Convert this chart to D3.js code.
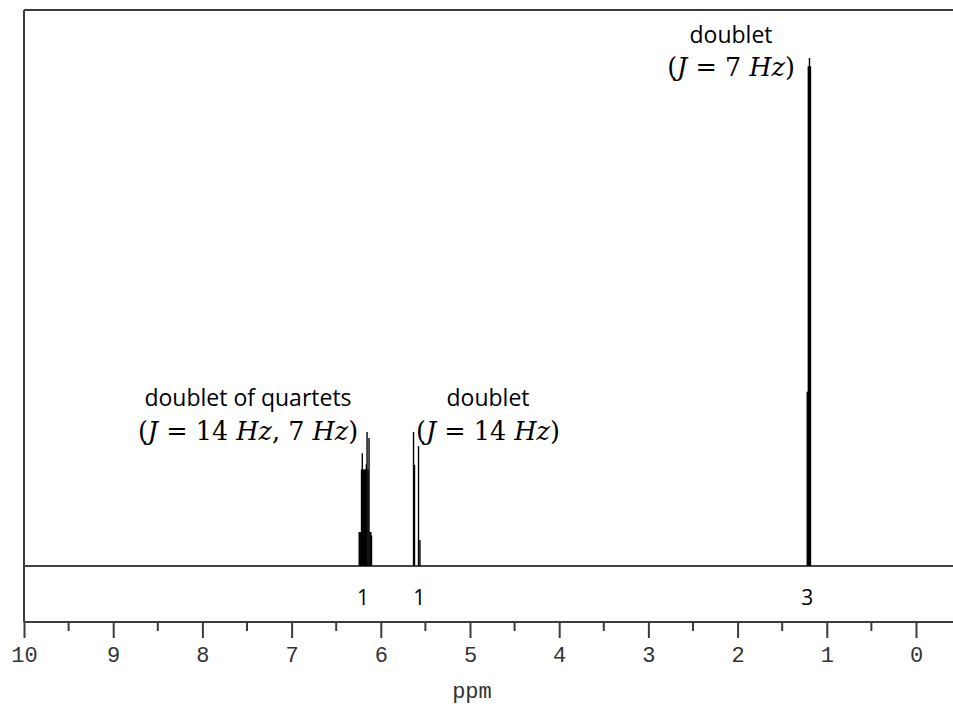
<!DOCTYPE html>
<html>
<head>
<meta charset="utf-8">
<script src="https://cdn.jsdelivr.net/npm/d3@7/dist/d3.min.js"></script>
<style>
  html, body { margin: 0; padding: 0; background: #fff; }
  svg { display: block; }
</style>
</head>
<body>
<svg id="chart" width="953" height="715"></svg>
<script>
// Simulated 1H NMR spectrum: stick lines (chemical shift in ppm, relative intensity)
const lineShifts = [
  // doublet of quartets near 6.17 ppm
  6.242, 6.232, 6.224, 6.216, 6.207, 6.196, 6.184, 6.173, 6.162, 6.154, 6.143, 6.132, 6.121, 6.112, 6.104,
  // doublet near 5.60 ppm
  5.633, 5.622, 5.577, 5.561,
  // doublet near 1.20 ppm
  1.219, 1.207, 1.194, 1.183
];
const lineIntensities = [
  0.067, 0.067, 0.067, 0.190, 0.222, 0.190, 0.190, 0.190, 0.200, 0.264, 0.190, 0.252, 0.067, 0.067, 0.060,
  0.264, 0.199, 0.236, 0.051,
  0.343, 0.984, 1.000, 0.984
];

// Integration values under each multiplet
const integralShifts = [6.20, 5.57, 1.22];
const integralValues = ["1", "1", "3"];

// Axis ticks (ppm)
const majorTicks = [10, 9, 8, 7, 6, 5, 4, 3, 2, 1, 0];
const minorTicks = [9.5, 8.5, 7.5, 6.5, 5.5, 4.5, 3.5, 2.5, 1.5, 0.5];

// Multiplet annotations
const annoTitles = ["doublet of quartets", "doublet", "doublet"];
const annoJ = [["14", "7"], ["14"], ["7"]];

(function draw() {
  const svg = d3.select("#chart");
  const W = 953;
  const padLeft = 24, padTop = 10;
  const baseY = 566, axisY = 622;

  const x = d3.scaleLinear().domain([10, -0.415]).range([padLeft, W]);
  const y = d3.scaleLinear().domain([0, 1]).range([baseY, 58]);

  const frameColor = "#3c3c3c";

  // Frame: top and left edges
  svg.append("line").attr("x1", padLeft).attr("x2", W).attr("y1", padTop).attr("y2", padTop)
    .attr("stroke", frameColor).attr("stroke-width", 2);
  svg.append("line").attr("x1", padLeft).attr("x2", padLeft).attr("y1", padTop).attr("y2", axisY)
    .attr("stroke", frameColor).attr("stroke-width", 2);

  // Spectrum baseline
  svg.append("line").attr("x1", padLeft).attr("x2", W).attr("y1", baseY).attr("y2", baseY)
    .attr("stroke", "#444").attr("stroke-width", 2);

  // Spectrum lines
  svg.append("g").selectAll("line").data(lineShifts).join("line")
    .attr("x1", d => x(d)).attr("x2", d => x(d))
    .attr("y1", baseY)
    .attr("y2", (d, i) => y(lineIntensities[i]))
    .attr("stroke", "#000").attr("stroke-width", 1.4);

  // Bottom ppm axis
  const axis = d3.axisBottom(x).tickValues(majorTicks).tickSize(16).tickPadding(8)
    .tickFormat(d3.format("d"));
  const gAxis = svg.append("g").attr("transform", `translate(0,${axisY})`).call(axis);
  gAxis.select(".domain").remove();
  gAxis.append("line").attr("x1", padLeft).attr("x2", W).attr("y1", 0).attr("y2", 0)
    .attr("stroke", frameColor).attr("stroke-width", 2);
  gAxis.selectAll(".tick line").attr("stroke", frameColor).attr("stroke-width", 2);
  gAxis.selectAll(".tick text")
    .attr("font-family", "'Liberation Mono', monospace")
    .attr("font-size", 22).attr("fill", "#333");
  gAxis.selectAll(".minor").data(minorTicks).join("line").attr("class", "minor")
    .attr("x1", d => x(d)).attr("x2", d => x(d)).attr("y1", 0).attr("y2", 9)
    .attr("stroke", frameColor).attr("stroke-width", 2);

  svg.append("text").attr("x", x(5) + 2).attr("y", 698).attr("text-anchor", "middle")
    .attr("font-family", "'Liberation Mono', monospace").attr("font-size", 22).attr("fill", "#333")
    .text("ppm");

  // Integration labels
  svg.append("g").selectAll("text").data(integralShifts).join("text")
    .attr("x", d => x(d)).attr("y", 605).attr("text-anchor", "middle")
    .attr("font-family", "'Open Sans', sans-serif").attr("font-size", 21).attr("fill", "#000")
    .text((d, i) => integralValues[i]);

  // Annotations over each multiplet
  const annoCenters = [248, 488, 731];
  const annoTitleY = [406, 406, 43];
  const annoMathY = [440, 440, 76];

  annoTitles.forEach((t, i) => {
    svg.append("text").attr("x", annoCenters[i]).attr("y", annoTitleY[i])
      .attr("text-anchor", "middle")
      .attr("font-family", "'Open Sans', sans-serif").attr("font-size", 23).attr("fill", "#000")
      .text(t);

    const m = svg.append("text").attr("x", annoCenters[i]).attr("y", annoMathY[i])
      .attr("text-anchor", "middle")
      .attr("font-family", "'DejaVu Serif', serif").attr("font-size", 25.5).attr("fill", "#000")
      .attr("xml:space", "preserve");
    m.append("tspan").text("(");
    m.append("tspan").attr("font-style", "italic").text("J");
    m.append("tspan").text(" = ");
    annoJ[i].forEach((j, k) => {
      if (k > 0) m.append("tspan").text(", ");
      m.append("tspan").text(j + " ");
      m.append("tspan").attr("font-style", "italic").text("Hz");
    });
    m.append("tspan").text(")");
  });
})();
</script>
</body>
</html>
